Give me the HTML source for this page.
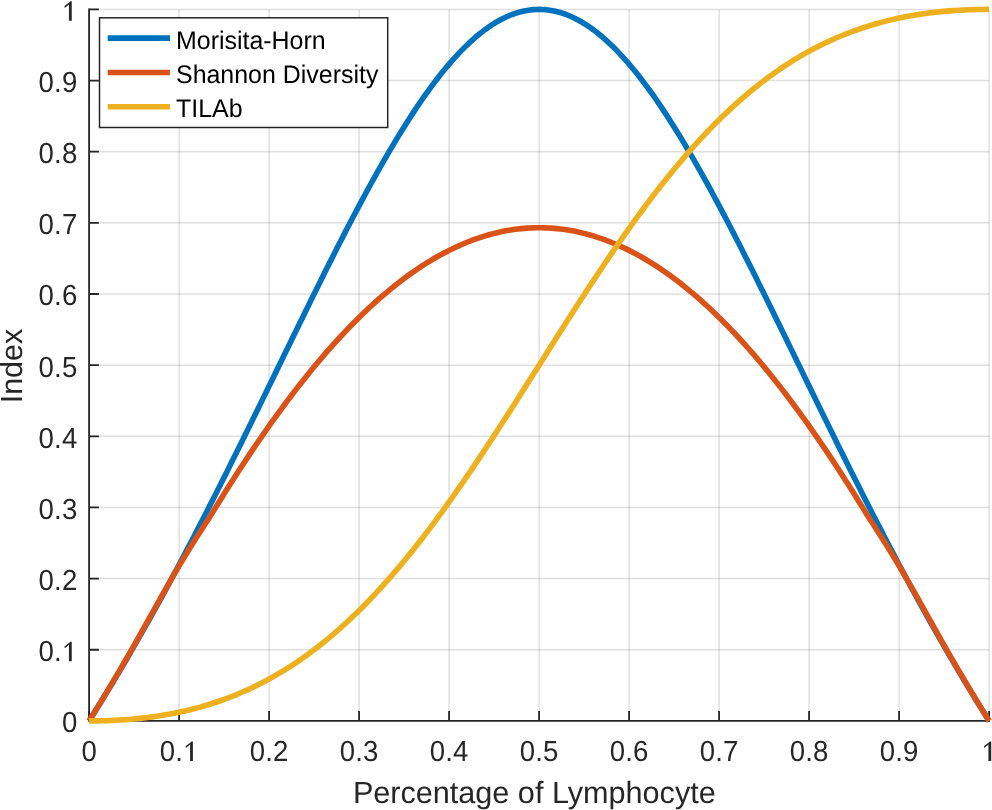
<!DOCTYPE html>
<html><head><meta charset="utf-8"><style>
html,body{margin:0;padding:0;background:#fff;width:992px;height:810px;overflow:hidden}
svg{display:block;will-change:transform}
text{font-family:"Liberation Sans",sans-serif}
</style></head><body>
<svg width="992" height="810" viewBox="0 0 992 810"><rect width="992" height="810" fill="#fff"/><path d="M179.10,9.40V720.90M269.10,9.40V720.90M359.10,9.40V720.90M449.10,9.40V720.90M539.10,9.40V720.90M629.10,9.40V720.90M719.10,9.40V720.90M809.10,9.40V720.90M899.10,9.40V720.90M989.10,9.40V720.90" stroke="#262626" stroke-opacity="0.15" stroke-width="1.5" fill="none"/><path d="M89.10,649.75H989.10M89.10,578.60H989.10M89.10,507.45H989.10M89.10,436.30H989.10M89.10,365.15H989.10M89.10,294.00H989.10M89.10,222.85H989.10M89.10,151.70H989.10M89.10,80.55H989.10M89.10,9.40H989.10" stroke="#262626" stroke-opacity="0.15" stroke-width="1.5" fill="none"/><path d="M89.10,9.40V720.90H989.10" stroke="#262626" stroke-width="1.8" fill="none" stroke-linecap="square"/><path d="M89.10,720.90V711.10M89.10,720.90H98.90M179.10,720.90V711.10M89.10,649.75H98.90M269.10,720.90V711.10M89.10,578.60H98.90M359.10,720.90V711.10M89.10,507.45H98.90M449.10,720.90V711.10M89.10,436.30H98.90M539.10,720.90V711.10M89.10,365.15H98.90M629.10,720.90V711.10M89.10,294.00H98.90M719.10,720.90V711.10M89.10,222.85H98.90M809.10,720.90V711.10M89.10,151.70H98.90M899.10,720.90V711.10M89.10,80.55H98.90M989.10,720.90V711.10M89.10,9.40H98.90" stroke="#262626" stroke-width="1.8" fill="none" stroke-linecap="butt"/><g font-family="Liberation Sans, sans-serif" text-rendering="geometricPrecision" font-size="28.0" fill="#262626"><text transform="translate(89.10,760.90) scale(0.985,1.035)" x="0" y="0" text-anchor="middle">0</text><text transform="translate(69.62,732.30) scale(0.985,1.035)" x="0" y="0" text-anchor="middle">0</text><text transform="translate(167.42,760.90) scale(0.985,1.035)" x="0" y="0" text-anchor="middle">0</text><text transform="translate(179.10,760.90) scale(0.985,1.035)" x="0" y="0" text-anchor="middle">.</text><path d="M192.90,760.90L192.90,741.41L191.39,741.41C189.99,742.88 187.75,744.68 185.79,745.93L185.79,748.09C187.47,746.90 189.01,745.65 190.10,744.49L190.10,760.90Z"/><text transform="translate(46.26,661.15) scale(0.985,1.035)" x="0" y="0" text-anchor="middle">0</text><text transform="translate(57.94,661.15) scale(0.985,1.035)" x="0" y="0" text-anchor="middle">.</text><path d="M71.74,661.15L71.74,641.66L70.23,641.66C68.83,643.13 66.59,644.93 64.63,646.18L64.63,648.34C66.31,647.15 67.85,645.90 68.94,644.74L68.94,661.15Z"/><text transform="translate(257.42,760.90) scale(0.985,1.035)" x="0" y="0" text-anchor="middle">0</text><text transform="translate(269.10,760.90) scale(0.985,1.035)" x="0" y="0" text-anchor="middle">.</text><text transform="translate(280.78,760.90) scale(0.985,1.035)" x="0" y="0" text-anchor="middle">2</text><text transform="translate(46.26,590.00) scale(0.985,1.035)" x="0" y="0" text-anchor="middle">0</text><text transform="translate(57.94,590.00) scale(0.985,1.035)" x="0" y="0" text-anchor="middle">.</text><text transform="translate(69.62,590.00) scale(0.985,1.035)" x="0" y="0" text-anchor="middle">2</text><text transform="translate(347.42,760.90) scale(0.985,1.035)" x="0" y="0" text-anchor="middle">0</text><text transform="translate(359.10,760.90) scale(0.985,1.035)" x="0" y="0" text-anchor="middle">.</text><text transform="translate(370.78,760.90) scale(0.985,1.035)" x="0" y="0" text-anchor="middle">3</text><text transform="translate(46.26,518.85) scale(0.985,1.035)" x="0" y="0" text-anchor="middle">0</text><text transform="translate(57.94,518.85) scale(0.985,1.035)" x="0" y="0" text-anchor="middle">.</text><text transform="translate(69.62,518.85) scale(0.985,1.035)" x="0" y="0" text-anchor="middle">3</text><text transform="translate(437.42,760.90) scale(0.985,1.035)" x="0" y="0" text-anchor="middle">0</text><text transform="translate(449.10,760.90) scale(0.985,1.035)" x="0" y="0" text-anchor="middle">.</text><text transform="translate(460.78,760.90) scale(0.985,1.035)" x="0" y="0" text-anchor="middle">4</text><text transform="translate(46.26,447.70) scale(0.985,1.035)" x="0" y="0" text-anchor="middle">0</text><text transform="translate(57.94,447.70) scale(0.985,1.035)" x="0" y="0" text-anchor="middle">.</text><text transform="translate(69.62,447.70) scale(0.985,1.035)" x="0" y="0" text-anchor="middle">4</text><text transform="translate(527.42,760.90) scale(0.985,1.035)" x="0" y="0" text-anchor="middle">0</text><text transform="translate(539.10,760.90) scale(0.985,1.035)" x="0" y="0" text-anchor="middle">.</text><text transform="translate(550.78,760.90) scale(0.985,1.035)" x="0" y="0" text-anchor="middle">5</text><text transform="translate(46.26,376.55) scale(0.985,1.035)" x="0" y="0" text-anchor="middle">0</text><text transform="translate(57.94,376.55) scale(0.985,1.035)" x="0" y="0" text-anchor="middle">.</text><text transform="translate(69.62,376.55) scale(0.985,1.035)" x="0" y="0" text-anchor="middle">5</text><text transform="translate(617.42,760.90) scale(0.985,1.035)" x="0" y="0" text-anchor="middle">0</text><text transform="translate(629.10,760.90) scale(0.985,1.035)" x="0" y="0" text-anchor="middle">.</text><text transform="translate(640.78,760.90) scale(0.985,1.035)" x="0" y="0" text-anchor="middle">6</text><text transform="translate(46.26,305.40) scale(0.985,1.035)" x="0" y="0" text-anchor="middle">0</text><text transform="translate(57.94,305.40) scale(0.985,1.035)" x="0" y="0" text-anchor="middle">.</text><text transform="translate(69.62,305.40) scale(0.985,1.035)" x="0" y="0" text-anchor="middle">6</text><text transform="translate(707.42,760.90) scale(0.985,1.035)" x="0" y="0" text-anchor="middle">0</text><text transform="translate(719.10,760.90) scale(0.985,1.035)" x="0" y="0" text-anchor="middle">.</text><text transform="translate(730.78,760.90) scale(0.985,1.035)" x="0" y="0" text-anchor="middle">7</text><text transform="translate(46.26,234.25) scale(0.985,1.035)" x="0" y="0" text-anchor="middle">0</text><text transform="translate(57.94,234.25) scale(0.985,1.035)" x="0" y="0" text-anchor="middle">.</text><text transform="translate(69.62,234.25) scale(0.985,1.035)" x="0" y="0" text-anchor="middle">7</text><text transform="translate(797.42,760.90) scale(0.985,1.035)" x="0" y="0" text-anchor="middle">0</text><text transform="translate(809.10,760.90) scale(0.985,1.035)" x="0" y="0" text-anchor="middle">.</text><text transform="translate(820.78,760.90) scale(0.985,1.035)" x="0" y="0" text-anchor="middle">8</text><text transform="translate(46.26,163.10) scale(0.985,1.035)" x="0" y="0" text-anchor="middle">0</text><text transform="translate(57.94,163.10) scale(0.985,1.035)" x="0" y="0" text-anchor="middle">.</text><text transform="translate(69.62,163.10) scale(0.985,1.035)" x="0" y="0" text-anchor="middle">8</text><text transform="translate(887.42,760.90) scale(0.985,1.035)" x="0" y="0" text-anchor="middle">0</text><text transform="translate(899.10,760.90) scale(0.985,1.035)" x="0" y="0" text-anchor="middle">.</text><text transform="translate(910.78,760.90) scale(0.985,1.035)" x="0" y="0" text-anchor="middle">9</text><text transform="translate(46.26,91.95) scale(0.985,1.035)" x="0" y="0" text-anchor="middle">0</text><text transform="translate(57.94,91.95) scale(0.985,1.035)" x="0" y="0" text-anchor="middle">.</text><text transform="translate(69.62,91.95) scale(0.985,1.035)" x="0" y="0" text-anchor="middle">9</text><path d="M991.23,760.90L991.23,741.41L989.72,741.41C988.32,742.88 986.08,744.68 984.12,745.93L984.12,748.09C985.80,746.90 987.34,745.65 988.43,744.49L988.43,760.90Z"/><path d="M71.74,20.80L71.74,1.31L70.23,1.31C68.83,2.78 66.59,4.58 64.63,5.83L64.63,7.99C66.31,6.80 67.85,5.55 68.94,4.39L68.94,20.80Z"/></g><text x="534.3" y="802.7" text-anchor="middle" font-family="Liberation Sans, sans-serif" text-rendering="geometricPrecision" font-size="30.6" fill="#262626">Percentage of Lymphocyte</text><text transform="translate(21.9,366.0) rotate(-90)" x="0" y="0" text-anchor="middle" font-family="Liberation Sans, sans-serif" text-rendering="geometricPrecision" font-size="30.5" fill="#262626">Index</text><path d="M89.10,720.90L92.10,716.14L95.10,711.35L98.10,706.53L101.10,701.67L104.10,696.79L107.10,691.87L110.10,686.92L113.10,681.94L116.10,676.93L119.10,671.89L122.10,666.82L125.10,661.71L128.10,656.58L131.10,651.41L134.10,646.21L137.10,640.98L140.10,635.73L143.10,630.44L146.10,625.12L149.10,619.77L152.10,614.40L155.10,608.99L158.10,603.55L161.10,598.09L164.10,592.60L167.10,587.08L170.10,581.53L173.10,575.95L176.10,570.35L179.10,564.72L182.10,559.06L185.10,553.38L188.10,547.67L191.10,541.94L194.10,536.18L197.10,530.40L200.10,524.59L203.10,518.76L206.10,512.91L209.10,507.04L212.10,501.14L215.10,495.23L218.10,489.29L221.10,483.34L224.10,477.37L227.10,471.38L230.10,465.37L233.10,459.34L236.10,453.30L239.10,447.25L242.10,441.18L245.10,435.09L248.10,429.00L251.10,422.89L254.10,416.78L257.10,410.65L260.10,404.52L263.10,398.38L266.10,392.23L269.10,386.08L272.10,379.92L275.10,373.76L278.10,367.60L281.10,361.44L284.10,355.28L287.10,349.12L290.10,342.96L293.10,336.81L296.10,330.67L299.10,324.53L302.10,318.40L305.10,312.28L308.10,306.17L311.10,300.08L314.10,294.00L317.10,287.94L320.10,281.89L323.10,275.87L326.10,269.86L329.10,263.88L332.10,257.92L335.10,251.99L338.10,246.08L341.10,240.21L344.10,234.36L347.10,228.55L350.10,222.78L353.10,217.04L356.10,211.34L359.10,205.68L362.10,200.06L365.10,194.48L368.10,188.95L371.10,183.47L374.10,178.04L377.10,172.66L380.10,167.34L383.10,162.07L386.10,156.85L389.10,151.70L392.10,146.61L395.10,141.58L398.10,136.62L401.10,131.72L404.10,126.90L407.10,122.14L410.10,117.46L413.10,112.85L416.10,108.32L419.10,103.87L422.10,99.50L425.10,95.22L428.10,91.02L431.10,86.90L434.10,82.87L437.10,78.94L440.10,75.09L443.10,71.34L446.10,67.69L449.10,64.13L452.10,60.67L455.10,57.31L458.10,54.06L461.10,50.91L464.10,47.86L467.10,44.92L470.10,42.09L473.10,39.37L476.10,36.75L479.10,34.26L482.10,31.87L485.10,29.60L488.10,27.45L491.10,25.41L494.10,23.49L497.10,21.69L500.10,20.01L503.10,18.45L506.10,17.01L509.10,15.70L512.10,14.50L515.10,13.44L518.10,12.49L521.10,11.67L524.10,10.98L527.10,10.41L530.10,9.97L533.10,9.65L536.10,9.46L539.10,9.40L542.10,9.46L545.10,9.65L548.10,9.97L551.10,10.41L554.10,10.98L557.10,11.67L560.10,12.49L563.10,13.44L566.10,14.50L569.10,15.70L572.10,17.01L575.10,18.45L578.10,20.01L581.10,21.69L584.10,23.49L587.10,25.41L590.10,27.45L593.10,29.60L596.10,31.87L599.10,34.26L602.10,36.75L605.10,39.37L608.10,42.09L611.10,44.92L614.10,47.86L617.10,50.91L620.10,54.06L623.10,57.31L626.10,60.67L629.10,64.13L632.10,67.69L635.10,71.34L638.10,75.09L641.10,78.94L644.10,82.87L647.10,86.90L650.10,91.02L653.10,95.22L656.10,99.50L659.10,103.87L662.10,108.32L665.10,112.85L668.10,117.46L671.10,122.14L674.10,126.90L677.10,131.72L680.10,136.62L683.10,141.58L686.10,146.61L689.10,151.70L692.10,156.85L695.10,162.07L698.10,167.34L701.10,172.66L704.10,178.04L707.10,183.47L710.10,188.95L713.10,194.48L716.10,200.06L719.10,205.68L722.10,211.34L725.10,217.04L728.10,222.78L731.10,228.55L734.10,234.36L737.10,240.21L740.10,246.08L743.10,251.99L746.10,257.92L749.10,263.88L752.10,269.86L755.10,275.87L758.10,281.89L761.10,287.94L764.10,294.00L767.10,300.08L770.10,306.17L773.10,312.28L776.10,318.40L779.10,324.53L782.10,330.67L785.10,336.81L788.10,342.96L791.10,349.12L794.10,355.28L797.10,361.44L800.10,367.60L803.10,373.76L806.10,379.92L809.10,386.08L812.10,392.23L815.10,398.38L818.10,404.52L821.10,410.65L824.10,416.78L827.10,422.89L830.10,429.00L833.10,435.09L836.10,441.18L839.10,447.25L842.10,453.30L845.10,459.34L848.10,465.37L851.10,471.38L854.10,477.37L857.10,483.34L860.10,489.29L863.10,495.23L866.10,501.14L869.10,507.04L872.10,512.91L875.10,518.76L878.10,524.59L881.10,530.40L884.10,536.18L887.10,541.94L890.10,547.67L893.10,553.38L896.10,559.06L899.10,564.72L902.10,570.35L905.10,575.95L908.10,581.53L911.10,587.08L914.10,592.60L917.10,598.09L920.10,603.55L923.10,608.99L926.10,614.40L929.10,619.77L932.10,625.12L935.10,630.44L938.10,635.73L941.10,640.98L944.10,646.21L947.10,651.41L950.10,656.58L953.10,661.71L956.10,666.82L959.10,671.89L962.10,676.93L965.10,681.94L968.10,686.92L971.10,691.87L974.10,696.79L977.10,701.67L980.10,706.53L983.10,711.35L986.10,716.14L989.10,720.90" stroke="#0072bd" stroke-width="5.6" fill="none" stroke-linejoin="round" stroke-linecap="butt"/><path d="M89.10,720.90L92.10,716.08L95.10,711.24L98.10,706.36L101.10,701.44L104.10,696.50L107.10,691.52L110.10,686.52L113.10,681.48L116.10,676.40L119.10,671.30L122.10,666.17L125.10,661.00L128.10,655.80L131.10,650.58L134.10,645.32L137.10,640.03L140.10,634.70L143.10,629.35L146.10,623.99L149.10,618.62L152.10,613.25L155.10,607.89L158.10,602.54L161.10,597.20L164.10,591.88L167.10,586.59L170.10,581.34L173.10,576.13L176.10,570.97L179.10,565.87L182.10,560.83L185.10,555.85L188.10,550.94L191.10,546.10L194.10,541.32L197.10,536.59L200.10,531.90L203.10,527.24L206.10,522.58L209.10,517.90L212.10,513.17L215.10,508.35L218.10,503.49L221.10,498.65L224.10,493.85L227.10,489.08L230.10,484.34L233.10,479.64L236.10,474.97L239.10,470.33L242.10,465.73L245.10,461.17L248.10,456.64L251.10,452.14L254.10,447.69L257.10,443.27L260.10,438.88L263.10,434.54L266.10,430.24L269.10,425.97L272.10,421.74L275.10,417.55L278.10,413.41L281.10,409.30L284.10,405.23L287.10,401.20L290.10,397.22L293.10,393.27L296.10,389.37L299.10,385.51L302.10,381.69L305.10,377.92L308.10,374.18L311.10,370.49L314.10,366.84L317.10,363.24L320.10,359.68L323.10,356.16L326.10,352.69L329.10,349.26L332.10,345.88L335.10,342.54L338.10,339.25L341.10,336.00L344.10,332.80L347.10,329.64L350.10,326.53L353.10,323.46L356.10,320.44L359.10,317.47L362.10,314.54L365.10,311.66L368.10,308.82L371.10,306.04L374.10,303.30L377.10,300.60L380.10,297.96L383.10,295.36L386.10,292.81L389.10,290.30L392.10,287.84L395.10,285.44L398.10,283.08L401.10,280.76L404.10,278.50L407.10,276.28L410.10,274.12L413.10,272.00L416.10,269.93L419.10,267.90L422.10,265.93L425.10,264.01L428.10,262.13L431.10,260.30L434.10,258.53L437.10,256.80L440.10,255.12L443.10,253.49L446.10,251.91L449.10,250.38L452.10,248.90L455.10,247.47L458.10,246.09L461.10,244.76L464.10,243.47L467.10,242.24L470.10,241.06L473.10,239.93L476.10,238.84L479.10,237.81L482.10,236.83L485.10,235.90L488.10,235.02L491.10,234.18L494.10,233.40L497.10,232.67L500.10,231.99L503.10,231.36L506.10,230.78L509.10,230.25L512.10,229.77L515.10,229.34L518.10,228.96L521.10,228.63L524.10,228.36L527.10,228.13L530.10,227.95L533.10,227.83L536.10,227.75L539.10,227.73L542.10,227.75L545.10,227.83L548.10,227.95L551.10,228.13L554.10,228.36L557.10,228.63L560.10,228.96L563.10,229.34L566.10,229.77L569.10,230.25L572.10,230.78L575.10,231.36L578.10,231.99L581.10,232.67L584.10,233.40L587.10,234.18L590.10,235.02L593.10,235.90L596.10,236.83L599.10,237.81L602.10,238.84L605.10,239.93L608.10,241.06L611.10,242.24L614.10,243.47L617.10,244.76L620.10,246.09L623.10,247.47L626.10,248.90L629.10,250.38L632.10,251.91L635.10,253.49L638.10,255.12L641.10,256.80L644.10,258.53L647.10,260.30L650.10,262.13L653.10,264.01L656.10,265.93L659.10,267.90L662.10,269.93L665.10,272.00L668.10,274.12L671.10,276.28L674.10,278.50L677.10,280.76L680.10,283.08L683.10,285.44L686.10,287.84L689.10,290.30L692.10,292.81L695.10,295.36L698.10,297.96L701.10,300.60L704.10,303.30L707.10,306.04L710.10,308.82L713.10,311.66L716.10,314.54L719.10,317.47L722.10,320.44L725.10,323.46L728.10,326.53L731.10,329.64L734.10,332.80L737.10,336.00L740.10,339.25L743.10,342.54L746.10,345.88L749.10,349.26L752.10,352.69L755.10,356.16L758.10,359.68L761.10,363.24L764.10,366.84L767.10,370.49L770.10,374.18L773.10,377.92L776.10,381.69L779.10,385.51L782.10,389.37L785.10,393.27L788.10,397.22L791.10,401.20L794.10,405.23L797.10,409.30L800.10,413.41L803.10,417.55L806.10,421.74L809.10,425.97L812.10,430.24L815.10,434.54L818.10,438.88L821.10,443.27L824.10,447.69L827.10,452.14L830.10,456.64L833.10,461.17L836.10,465.73L839.10,470.33L842.10,474.97L845.10,479.64L848.10,484.34L851.10,489.08L854.10,493.85L857.10,498.65L860.10,503.49L863.10,508.35L866.10,513.17L869.10,517.90L872.10,522.58L875.10,527.24L878.10,531.90L881.10,536.59L884.10,541.32L887.10,546.10L890.10,550.94L893.10,555.85L896.10,560.83L899.10,565.87L902.10,570.97L905.10,576.13L908.10,581.34L911.10,586.59L914.10,591.88L917.10,597.20L920.10,602.54L923.10,607.89L926.10,613.25L929.10,618.62L932.10,623.99L935.10,629.35L938.10,634.70L941.10,640.03L944.10,645.32L947.10,650.58L950.10,655.80L953.10,661.00L956.10,666.17L959.10,671.30L962.10,676.40L965.10,681.48L968.10,686.52L971.10,691.52L974.10,696.50L977.10,701.44L980.10,706.36L983.10,711.24L986.10,716.08L989.10,720.90" stroke="#d95319" stroke-width="5.6" fill="none" stroke-linejoin="round" stroke-linecap="butt"/><path d="M89.10,720.90L92.10,720.89L95.10,720.87L98.10,720.83L101.10,720.77L104.10,720.70L107.10,720.60L110.10,720.49L113.10,720.37L116.10,720.22L119.10,720.05L122.10,719.87L125.10,719.67L128.10,719.44L131.10,719.20L134.10,718.93L137.10,718.65L140.10,718.34L143.10,718.01L146.10,717.66L149.10,717.29L152.10,716.89L155.10,716.47L158.10,716.03L161.10,715.56L164.10,715.07L167.10,714.55L170.10,714.01L173.10,713.44L176.10,712.84L179.10,712.22L182.10,711.57L185.10,710.90L188.10,710.19L191.10,709.46L194.10,708.70L197.10,707.91L200.10,707.09L203.10,706.24L206.10,705.36L209.10,704.45L212.10,703.51L215.10,702.53L218.10,701.52L221.10,700.48L224.10,699.41L227.10,698.31L230.10,697.16L233.10,695.99L236.10,694.78L239.10,693.53L242.10,692.25L245.10,690.94L248.10,689.58L251.10,688.19L254.10,686.76L257.10,685.30L260.10,683.79L263.10,682.25L266.10,680.67L269.10,679.05L272.10,677.39L275.10,675.68L278.10,673.94L281.10,672.16L284.10,670.34L287.10,668.47L290.10,666.56L293.10,664.61L296.10,662.62L299.10,660.58L302.10,658.50L305.10,656.38L308.10,654.21L311.10,652.00L314.10,649.75L317.10,647.45L320.10,645.11L323.10,642.72L326.10,640.28L329.10,637.81L332.10,635.28L335.10,632.71L338.10,630.09L341.10,627.43L344.10,624.72L347.10,621.97L350.10,619.17L353.10,616.32L356.10,613.43L359.10,610.49L362.10,607.51L365.10,604.48L368.10,601.40L371.10,598.28L374.10,595.12L377.10,591.90L380.10,588.64L383.10,585.34L386.10,581.99L389.10,578.60L392.10,575.16L395.10,571.68L398.10,568.16L401.10,564.59L404.10,560.98L407.10,557.32L410.10,553.62L413.10,549.89L416.10,546.11L419.10,542.29L422.10,538.43L425.10,534.53L428.10,530.59L431.10,526.61L434.10,522.59L437.10,518.54L440.10,514.45L443.10,510.33L446.10,506.17L449.10,501.98L452.10,497.75L455.10,493.49L458.10,489.20L461.10,484.88L464.10,480.53L467.10,476.15L470.10,471.74L473.10,467.31L476.10,462.85L479.10,458.36L482.10,453.85L485.10,449.32L488.10,444.76L491.10,440.19L494.10,435.60L497.10,430.98L500.10,426.35L503.10,421.71L506.10,417.05L509.10,412.37L512.10,407.69L515.10,402.99L518.10,398.28L521.10,393.56L524.10,388.84L527.10,384.11L530.10,379.37L533.10,374.63L536.10,369.89L539.10,365.15L542.10,360.41L545.10,355.67L548.10,350.93L551.10,346.19L554.10,341.46L557.10,336.74L560.10,332.02L563.10,327.31L566.10,322.61L569.10,317.93L572.10,313.25L575.10,308.59L578.10,303.95L581.10,299.32L584.10,294.70L587.10,290.11L590.10,285.54L593.10,280.98L596.10,276.45L599.10,271.94L602.10,267.45L605.10,262.99L608.10,258.56L611.10,254.15L614.10,249.77L617.10,245.42L620.10,241.10L623.10,236.81L626.10,232.55L629.10,228.32L632.10,224.13L635.10,219.97L638.10,215.85L641.10,211.76L644.10,207.71L647.10,203.69L650.10,199.71L653.10,195.77L656.10,191.87L659.10,188.01L662.10,184.19L665.10,180.41L668.10,176.68L671.10,172.98L674.10,169.32L677.10,165.71L680.10,162.14L683.10,158.62L686.10,155.14L689.10,151.70L692.10,148.31L695.10,144.96L698.10,141.66L701.10,138.40L704.10,135.18L707.10,132.02L710.10,128.90L713.10,125.82L716.10,122.79L719.10,119.81L722.10,116.87L725.10,113.98L728.10,111.13L731.10,108.33L734.10,105.58L737.10,102.87L740.10,100.21L743.10,97.59L746.10,95.02L749.10,92.49L752.10,90.02L755.10,87.58L758.10,85.19L761.10,82.85L764.10,80.55L767.10,78.30L770.10,76.09L773.10,73.92L776.10,71.80L779.10,69.72L782.10,67.68L785.10,65.69L788.10,63.74L791.10,61.83L794.10,59.96L797.10,58.14L800.10,56.36L803.10,54.62L806.10,52.91L809.10,51.25L812.10,49.63L815.10,48.05L818.10,46.51L821.10,45.00L824.10,43.54L827.10,42.11L830.10,40.72L833.10,39.36L836.10,38.05L839.10,36.77L842.10,35.52L845.10,34.31L848.10,33.14L851.10,31.99L854.10,30.89L857.10,29.82L860.10,28.78L863.10,27.77L866.10,26.79L869.10,25.85L872.10,24.94L875.10,24.06L878.10,23.21L881.10,22.39L884.10,21.60L887.10,20.84L890.10,20.11L893.10,19.40L896.10,18.73L899.10,18.08L902.10,17.46L905.10,16.86L908.10,16.29L911.10,15.75L914.10,15.23L917.10,14.74L920.10,14.27L923.10,13.83L926.10,13.41L929.10,13.01L932.10,12.64L935.10,12.29L938.10,11.96L941.10,11.65L944.10,11.37L947.10,11.10L950.10,10.86L953.10,10.63L956.10,10.43L959.10,10.25L962.10,10.08L965.10,9.93L968.10,9.81L971.10,9.70L974.10,9.60L977.10,9.53L980.10,9.47L983.10,9.43L986.10,9.41L989.10,9.40" stroke="#edb120" stroke-width="5.6" fill="none" stroke-linejoin="round" stroke-linecap="butt"/><rect x="99.5" y="17.8" width="288.2" height="109.7" fill="#fff" stroke="#262626" stroke-width="1.5"/><path d="M107.7,38.10H170" stroke="#0072bd" stroke-width="5.6"/><text transform="translate(176.0,48.50) scale(1,1.02)" x="0" y="0" font-family="Liberation Sans, sans-serif" text-rendering="geometricPrecision" font-size="24.95" fill="#000">Morisita-Horn</text><path d="M107.7,72.45H170" stroke="#d95319" stroke-width="5.6"/><text transform="translate(176.0,82.85) scale(1,1.02)" x="0" y="0" font-family="Liberation Sans, sans-serif" text-rendering="geometricPrecision" font-size="24.95" fill="#000">Shannon Diversity</text><path d="M107.7,106.80H170" stroke="#edb120" stroke-width="5.6"/><text transform="translate(176.0,117.20) scale(1,1.02)" x="0" y="0" font-family="Liberation Sans, sans-serif" text-rendering="geometricPrecision" font-size="24.95" fill="#000">TILAb</text></svg>
</body></html>
